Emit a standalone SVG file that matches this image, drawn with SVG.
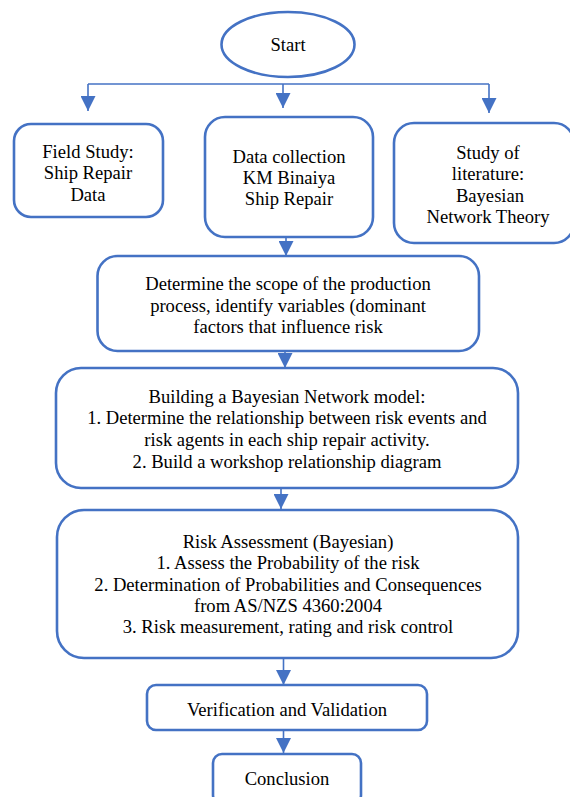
<svg xmlns="http://www.w3.org/2000/svg" width="570" height="797" viewBox="0 0 570 797">
<style>
.node{fill:#fff;stroke:#4472C4;stroke-width:2.6}
.conn{fill:none;stroke:#4472C4;stroke-width:1.6}
text{font-family:"Liberation Serif","Times New Roman",serif;font-size:18.6px;fill:#000;text-anchor:middle}
</style>
<defs>
<marker id="ah" markerUnits="userSpaceOnUse" markerWidth="15" markerHeight="15" viewBox="0 0 15 15" refX="15" refY="7.5" orient="auto">
<path d="M0,0 L15,7.5 L0,15 z" fill="#4472C4"/>
</marker>
</defs>
<rect width="570" height="797" fill="#fff"/>
<g id="connectors">
<path class="conn" d="M88,84 H489"/>
<path class="conn" d="M88,84 V111" marker-end="url(#ah)"/>
<path class="conn" d="M283,84 V108" marker-end="url(#ah)"/>
<path class="conn" d="M489,84 V113" marker-end="url(#ah)"/>
<path class="conn" d="M286,237 V256" marker-end="url(#ah)"/>
<path class="conn" d="M285,351 V368" marker-end="url(#ah)"/>
<path class="conn" d="M281,488 V509" marker-end="url(#ah)"/>
<path class="conn" d="M283.5,658 V685" marker-end="url(#ah)"/>
<path class="conn" d="M283.5,730 V753" marker-end="url(#ah)"/>
</g>
<g id="start">
<ellipse class="node" cx="288" cy="44.5" rx="66.5" ry="32.5"/>
<text x="288" y="51">Start</text>
</g>
<g id="field-study">
<rect class="node" x="14" y="124" width="149" height="93" rx="17"/>
<text x="88" y="158">Field Study:</text>
<text x="88" y="179">Ship Repair</text>
<text x="88" y="201">Data</text>
</g>
<g id="data-collection">
<rect class="node" x="205" y="117" width="168" height="120" rx="20"/>
<text x="289" y="163">Data collection</text>
<text x="289" y="184">KM Binaiya</text>
<text x="289" y="205">Ship Repair</text>
</g>
<g id="literature">
<rect class="node" x="394" y="123" width="180" height="120" rx="20"/>
<text x="488" y="159">Study of</text>
<text x="488" y="180">literature:</text>
<text x="490" y="202">Bayesian</text>
<text x="488" y="223">Network Theory</text>
</g>
<g id="scope">
<rect class="node" x="97.5" y="256" width="381.5" height="95" rx="20"/>
<text x="288" y="290">Determine the scope of the production</text>
<text x="288" y="312">process, identify variables (dominant</text>
<text x="288" y="333">factors that influence risk</text>
</g>
<g id="bn-model">
<rect class="node" x="56" y="368" width="462" height="120" rx="25"/>
<text x="287" y="403">Building a Bayesian Network model:</text>
<text x="287" y="424">1. Determine the relationship between risk events and</text>
<text x="287" y="446">risk agents in each ship repair activity.</text>
<text x="287" y="468">2. Build a workshop relationship diagram</text>
</g>
<g id="risk-assessment">
<rect class="node" x="57" y="510" width="461" height="148" rx="27"/>
<text x="288" y="548">Risk Assessment (Bayesian)</text>
<text x="288" y="569">1. Assess the Probability of the risk</text>
<text x="288" y="591">2. Determination of Probabilities and Consequences</text>
<text x="288" y="612">from AS/NZS 4360:2004</text>
<text x="288" y="633">3. Risk measurement, rating and risk control</text>
</g>
<g id="verification">
<rect class="node" x="147" y="685" width="280" height="45" rx="9"/>
<text x="287" y="716">Verification and Validation</text>
</g>
<g id="conclusion">
<rect class="node" x="213" y="754" width="148" height="50" rx="9"/>
<text x="287" y="785">Conclusion</text>
</g>
</svg>
